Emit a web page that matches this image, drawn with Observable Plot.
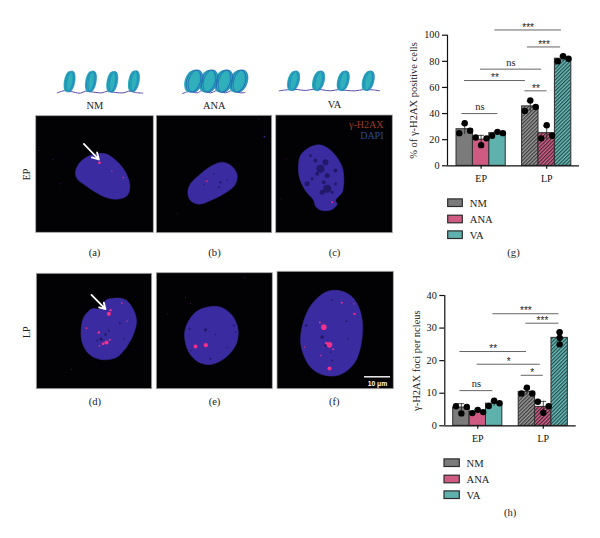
<!DOCTYPE html>
<html><head><meta charset="utf-8">
<script src="https://cdn.jsdelivr.net/npm/d3@7"></script>
<script src="https://cdn.jsdelivr.net/npm/@observablehq/plot@0.6"></script>
<style>
html,body{margin:0;padding:0;background:#fff}
#fig{position:relative;width:600px;height:538px;overflow:hidden;font-family:"Liberation Serif",serif}
#fig svg{position:absolute;left:0;top:0;overflow:visible;background:transparent}
</style></head><body><div id="fig"></div>
<script>
// ---- chart data ----
const groups = ["EP","LP"];
const treatments = ["NM","ANA","VA"];
const slotOf = [0,1,2,4,5,6];
const barGroup = ["EP","EP","EP","LP","LP","LP"];
const barTreat = ["NM","ANA","VA","NM","ANA","VA"];
const gMeans = [28,20,25,45.5,25,82];
const gErrors = [4,3.3,1.5,4,5.5,2];
const gReps = [[25,32.6,26.8],[21.7,15.8,21],[23,26,25],[42,50,45],[21,31,23],[80,84,82]];
const hMeans = [5.6,4.3,6.8,10.4,5.8,27];
const hErrors = [1.2,0.6,0.8,1,1.7,1.8];
const hReps = [[6,3.8,5.8],[3.9,4.9,4.2],[6.1,7.7,6.9],[9.9,11.7,9.9],[7.4,4,6],[28.7,27,25]];
const hDotOffsets = [[-.33,0,.33],[-.33,0,.33],[-.33,0,.33],[-.33,0,.33],[-.33,0,.33],[0,0,0]];
const gDotOffsets = [[-.33,0,.33],[-.33,0,.33],[-.33,0,.33],[-.33,0,.33],[-.33,0,.33],[-.33,0,.33]];
const gSigFrom = [.33,.49,1.46,4.17,4.32,2.34];
const gSigTo = [2.52,4.2,5.19,5.52,6.35,6.4];
const gSigY = [40,65.3,74,57.4,91,104];
const gSigLabel = ["ns","**","ns","**","***","***"];
const hSigFrom = [.41,.41,1.47,4.15,4.44,2.42];
const hSigTo = [2.42,4.48,5.32,5.5,6.46,6.46];
const hSigY = [10.8,22.8,18.9,15.5,31.5,34.4];
const hSigLabel = ["ns","**","*","*","***","***"];
const gTicks = [0,20,40,60,80,100];
const hTicks = [0,10,20,30,40];
const gYLabel = "% of γ-H2AX positive cells";
const hYLabel = "γ-H2AX foci per ncleus";
const solidFill = {NM:"#7b7b7b",ANA:"#cf5a82",VA:"#5fb1ae"};
const hatchFill = {NM:"url(#hatchNM)",ANA:"url(#hatchANA)",VA:"url(#hatchVA)"};

// ---- illustration data: traced in the zoomed crops ----
const upper = ([x,y,r]) => ({x:10+x/3,y:60+y/3,r});
const lower = ([x,y,r]) => ({x:10+x/3,y:260+y/3,r});
const nucleusA = [[195,335],[205,310],[225,292],[250,281],[285,280],[310,295],[335,320],[352,350],[358,380],[350,405],[320,416],[290,412],[255,395],[225,375],[200,355]];
const nucleusB = [[532,395],[540,370],[565,345],[600,318],[635,305],[665,318],[680,345],[672,375],[640,400],[600,420],[565,431],[540,420]];
const nucleusC = [[864,320],[870,285],[895,262],[925,253],[950,262],[975,285],[995,320],[1000,360],[995,395],[975,420],[980,430],[965,447],[935,450],[915,437],[910,420],[885,390],[868,355]];
const nucleusD = [[212,205],[220,170],[245,145],[270,145],[285,120],[310,113],[345,118],[370,150],[378,185],[365,230],[340,270],[315,292],[270,297],[235,280],[215,245]];
const nucleusE = [[522,225],[530,190],[555,155],[590,140],[630,140],[665,165],[683,210],[675,255],[640,295],[600,312],[565,305],[535,275]];
const nucleusF = [[870,240],[880,180],[905,130],[945,95],[985,90],[1020,105],[1045,140],[1056,190],[1050,260],[1030,310],[990,342],[945,345],[905,325],[880,285]];
const nuclei = [
  ...nucleusA.map(upper).map(d=>({...d,id:"a"})),...nucleusB.map(upper).map(d=>({...d,id:"b"})),...nucleusC.map(upper).map(d=>({...d,id:"c"})),
  ...nucleusD.map(lower).map(d=>({...d,id:"d"})),...nucleusE.map(lower).map(d=>({...d,id:"e"})),...nucleusF.map(lower).map(d=>({...d,id:"f"}))];
const pinkSpots = [
  ...[[267,307,1.4],[338,351,.8],[304,332,.6],[589,362,.8],[965,425,.9]].map(upper),
  ...[[295,160,2.1],[300,149,1.2],[265,216,1.2],[288,246,2.1],[278,250,1.4],[298,238,1],[267,256,.8],[228,203,.9],[334,128,.8],[350,182,.7],
      [586,254,2.1],[555,258,1.9],[940,200,2.8],[928,186,.9],[957,253,2.8],[948,248,1.4],[968,266,.9],[957,324,2],[931,285,.8],[994,127,1],[1032,160,1.2],[1030,130,.7],[882,260,.6]].map(lower)];
const darkSpots = [
  ...[[930,325,4],[945,305,3],[915,300,2],[950,385,4],[935,395,2.5],[890,370,2.5],[905,355,1.5],[975,330,2],[900,285,1.5],[950,345,2.5],[965,395,1.5],[920,340,2],[940,365,2],[975,370,1.5],[630,365,1.2],[625,380,1],[610,340,.8],[580,372,.8],[650,358,.8]].map(upper),
  ...[[272,236,1.6],[285,222,1.3],[295,210,1],[260,240,1],[328,188,1],[340,235,.8],
      [585,208,1.6],[537,205,1],[600,295,1],[670,195,1],[675,215,.8],[540,270,.8],[615,222,.8],[650,262,.8],
      [935,230,1.8],[945,255,1.3],[965,300,.9],[887,195,1.3],[965,118,.9],[1008,182,.9],[1012,235,.8],[960,275,.8],[1020,130,.6]].map(lower)];
const dustSpots = [
  ...[[127,297],[85,270],[150,370],[827,295],[812,415],[745,178],[500,458]].map(upper),
  ...[[525,110],[702,52],[470,160],[183,326],[540,130]].map(lower)];
const blueSmear = [[762,229,1]].map(upper);
const panelX1 = [35.7,156.3,275.7,36.3,156.3,277];
const panelX2 = [153.3,271.7,392.3,151.7,272.3,393.3];
const panelY1 = [115.7,115.3,115,273.3,272.7,271.3];
const panelY2 = [232.3,232.7,232.7,388.7,388.7,388.7];
const arrows = [[upper([220,250]),upper([265,297])],[lower([243,103]),lower([285,146])]];
const panelLetters = ["(a)","(b)","(c)","(d)","(e)","(f)","(g)","(h)"];
const letterX = [94,214,334,94.3,214,333.7,513,509.7];
const letterY = [251.7,251.7,251.7,400.7,400.7,400.7,252,511.7];
const columnNames = ["NM","ANA","VA"];
const columnX = [94.3,213.7,334];
const columnY = [105,105,103.7];
const strandNM = [[140,97],[165,90],[190,95],[210,98],[225,92],[250,95],[275,97],[290,92],[315,96],[340,97],[355,92],[375,96],[397,98]];
const strandANA = [[516,99],[540,92],[560,97],[575,90],[600,97],[620,90],[645,97],[665,90],[690,97],[703,96]];
const strandVA = [[806,91],[830,88],[860,87],[885,90],[910,86],[935,88],[960,91],[985,87],[1010,90],[1035,91],[1060,87],[1085,88],[1107,91]];
const strands = [...strandNM.map(upper).map(d=>({...d,id:"NM"})),...strandANA.map(upper).map(d=>({...d,id:"ANA"})),...strandVA.map(upper).map(d=>({...d,id:"VA"}))];
const histonesNM = [[172,63],[236,63],[300,64],[365,62]].map(upper);
const histonesANA = [[543,62],[588,62],[633,62],[678,62]].map(upper);
const histonesVA = [[844,61],[919,61],[993,61],[1068,61]].map(upper);
const legendRowsG = [202.7,219,234.7];
const legendRowsH = [462.7,479,494.7];

// ---- helpers ----
function ellipse(rx, ry, deg) {
  const a = deg*Math.PI/180, c = Math.cos(a), s = Math.sin(a);
  return {draw(ctx){
    for (let i=0;i<36;i++){
      const t=i/36*2*Math.PI, u=rx*Math.cos(t), v=ry*Math.sin(t);
      const px=u*c-v*s, py=u*s+v*c;
      i?ctx.lineTo(px,py):ctx.moveTo(px,py);
    }
    ctx.closePath();
  }};
}
function defsMark(){
  const ns="http://www.w3.org/2000/svg";
  const defs=document.createElementNS(ns,"defs");
  for (const [id,bg,fg] of [["hatchNM","#9a9a9a","#3c3c3c"],["hatchANA","#e0608e","#3d2a33"],["hatchVA","#6cc0bc","#23494a"]]){
    const p=document.createElementNS(ns,"pattern");
    p.setAttribute("id",id);p.setAttribute("width","2.6");p.setAttribute("height","2.6");
    p.setAttribute("patternUnits","userSpaceOnUse");p.setAttribute("patternTransform","rotate(-45)");
    const a=document.createElementNS(ns,"rect");a.setAttribute("width","2.6");a.setAttribute("height","2.6");a.setAttribute("fill",bg);
    const b=document.createElementNS(ns,"rect");b.setAttribute("width","2.6");b.setAttribute("height","1.2");b.setAttribute("fill",fg);
    p.append(a,b);defs.append(p);
  }
  return defs;
}
function histoneMarks(centers, rx, ry, deg, offset, stripe){
  const e = ellipse(rx,ry,deg);
  return [
    Plot.dot(centers,{x:d=>d.x+offset*2,y:"y",symbol:e,fill:"#2aa6c0",stroke:"none"}),
    Plot.dot(centers,{x:"x",y:"y",symbol:e,fill:"#2fb0bb",stroke:"none"}),
    Plot.dot(centers,{x:d=>d.x+offset,y:"y",symbol:e,fill:"none",stroke:stripe,strokeWidth:.8,clip:false}),
    Plot.dot(centers,{x:d=>d.x+offset*2,y:"y",symbol:e,fill:"none",stroke:stripe,strokeWidth:.7})
  ];
}

// ---- scene: micrographs, cartoons, labels, legends ----
const idx = panelX1.map((_,i)=>i);
const scene = Plot.plot({
  width:600,height:538,margin:0,style:{background:"transparent",fontFamily:"Liberation Serif",fontSize:"10px",color:"#222"},
  x:{domain:[0,600],axis:null},y:{domain:[0,538],reverse:true,axis:null},r:{type:"identity"},
  marks:[
    defsMark,
    Plot.line(strands,{x:"x",y:"y",z:"id",stroke:"#5d4aa6",strokeWidth:1,curve:"catmull-rom"}),
    ...histoneMarks(histonesNM,3.9,10.5,10,1.5,"#1b7fb8"),
    ...histoneMarks(histonesANA,6.8,11.5,18,2,"#1f5fb0"),
    ...histoneMarks(histonesVA,4.3,10,14,1.5,"#1b7fb8"),
    Plot.rect(idx,{x1:i=>panelX1[i],x2:i=>panelX2[i],y1:i=>panelY1[i],y2:i=>panelY2[i],fill:"#020205",stroke:"#a8a8a8",strokeWidth:.8}),
    Plot.dot(dustSpots,{x:"x",y:"y",r:.5,fill:"#4a1f55"}),
    Plot.dot(blueSmear,{x:"x",y:"y",r:1,fill:"#2a2a8a"}),
    Plot.line(nuclei,{x:"x",y:"y",z:"id",fill:"#3a2ca0",stroke:"#3a2ca0",strokeWidth:.5,curve:"catmull-rom-closed"}),
    Plot.dot(darkSpots,{x:"x",y:"y",r:"r",fill:"#17104f",fillOpacity:.65,imageFilter:"blur(0.5px)"}),
    Plot.dot(pinkSpots,{x:"x",y:"y",r:"r",fill:"#f0308a",imageFilter:"blur(0.3px)"}),
    Plot.arrow(arrows,{x1:d=>d[0].x,y1:d=>d[0].y,x2:d=>d[1].x,y2:d=>d[1].y,stroke:"#fff",strokeWidth:1.8,headLength:7,bend:0}),
    Plot.text(columnNames,{x:(d,i)=>columnX[i],y:(d,i)=>columnY[i],text:d=>d,fontSize:10.4,fill:"#222"}),
    Plot.text(panelLetters,{x:(d,i)=>letterX[i],y:(d,i)=>letterY[i],text:d=>d,fontSize:10.6,fill:"#222"}),
    Plot.text(groups,{x:26,y:(d,i)=>[174,331.7][i],text:d=>d,rotate:-90,fontSize:10,fill:"#222"}),
    Plot.text(["γ-H2AX"],{x:383,y:124,text:d=>d,textAnchor:"end",fontSize:10,fill:"#9c3a26"}),
    Plot.text(["DAPI"],{x:383,y:135.5,text:d=>d,textAnchor:"end",fontSize:10,fill:"#2b4e8e"}),
    Plot.ruleY([376.3],{x1:364,x2:390,stroke:"#fff",strokeWidth:1.4}),
    Plot.text(["10 μm"],{x:377,y:383.7,text:d=>d,fontSize:6.8,fontWeight:"bold",fontFamily:"Liberation Sans",fill:"#fff"}),
    // legends
    Plot.rect(treatments,{x1:447.7,x2:462.3,y1:(d,i)=>legendRowsG[i]-3.8,y2:(d,i)=>legendRowsG[i]+3.8,fill:d=>solidFill[d],stroke:"#2c2c2c",strokeWidth:1.2}),
    Plot.text(treatments,{x:469.3,y:(d,i)=>legendRowsG[i],text:d=>d,textAnchor:"start",fontSize:10.6,fill:"#222"}),
    Plot.rect(treatments,{x1:444,x2:459.3,y1:(d,i)=>legendRowsH[i]-3.8,y2:(d,i)=>legendRowsH[i]+3.8,fill:d=>solidFill[d],stroke:"#2c2c2c",strokeWidth:1.2}),
    Plot.text(treatments,{x:466,y:(d,i)=>legendRowsH[i],text:d=>d,textAnchor:"start",fontSize:10.6,fill:"#222"})
  ]
});

// ---- bar chart ----
function barChart({means,errors,reps,offsets,sigFrom,sigTo,sigY,sigLabel,ticks,yLabel,ymax,top,left,height,marginTop,marginBottom,marginLeft,marginRight,xMin,xMax,labelDx}){
  const bars = means.map((v,i)=>({v,e:errors[i],s:slotOf[i],g:barGroup[i],t:barTreat[i]}));
  const dots = reps.flatMap((r,i)=>r.map((v,j)=>({x:slotOf[i]+.5+offsets[i][j],v})));
  const sigs = sigLabel.map((l,i)=>({l,a:sigFrom[i],b:sigTo[i],y:sigY[i],star:l!=="ns"}));
  const p = Plot.plot({
    width:200,height,marginTop,marginBottom,marginLeft,marginRight,
    style:{background:"transparent",fontFamily:"Liberation Serif",fontSize:"10px",color:"#111",overflow:"visible"},
    x:{domain:[xMin,xMax],axis:null},
    y:{domain:[0,ymax],axis:null},
    marks:[
      Plot.rect(bars,{x1:"s",x2:d=>d.s+1,y1:0,y2:"v",fill:d=>d.g==="EP"?solidFill[d.t]:hatchFill[d.t],stroke:"#2f2f2f",strokeWidth:1}),
      Plot.ruleX(bars,{x:d=>d.s+.5,y1:d=>d.v-d.e,y2:d=>d.v+d.e,stroke:"#222",strokeWidth:.8}),
      Plot.ruleY(bars,{x1:d=>d.s+.3,x2:d=>d.s+.7,y:d=>d.v+d.e,stroke:"#222",strokeWidth:.8}),
      Plot.dot(dots,{x:"x",y:"v",r:3.2,fill:"#000"}),
      Plot.ruleY([0],{stroke:"#111",strokeWidth:1.2}),
      Plot.ruleX([xMin],{y1:0,y2:ymax,stroke:"#111",strokeWidth:1.2}),
      Plot.axisY({ticks,tickSize:5,tickPadding:3,fontSize:10.2,strokeWidth:1.2,label:null}),
      Plot.text([yLabel],{frameAnchor:"middle",dx:labelDx,rotate:-90,text:d=>d,fontSize:10.5,fill:"#222"}),
      Plot.axisX({ticks:[1.5,5.5],tickFormat:d=>d===1.5?groups[0]:groups[1],tickSize:3.5,tickPadding:6,fontSize:10,strokeWidth:1.2,label:null}),
      Plot.ruleY(sigs,{x1:"a",x2:"b",y:"y",stroke:"#555",strokeWidth:.9}),
      Plot.text(sigs.filter(d=>d.star),{x:d=>(d.a+d.b)/2,y:"y",text:"l",dy:-2.5,fontSize:10,fill:"#222",fontFamily:"Liberation Sans"}),
      Plot.text(sigs.filter(d=>!d.star),{x:d=>(d.a+d.b)/2,y:"y",text:"l",dy:-7,fontSize:10.5,fill:"#222"})
    ]
  });
  p.style.left=left+"px";p.style.top=top+"px";
  return p;
}
const chartG = barChart({means:gMeans,errors:gErrors,reps:gReps,offsets:gDotOffsets,sigFrom:gSigFrom,sigTo:gSigTo,sigY:gSigY,sigLabel:gSigLabel,
  ticks:gTicks,yLabel:gYLabel,ymax:100,top:10,left:400,height:190,marginTop:24.7,marginBottom:34.7,marginLeft:47,marginRight:21,xMin:-.55,xMax:7.5,labelDx:-99.7});
const chartH = barChart({means:hMeans,errors:hErrors,reps:hReps,offsets:hDotOffsets,sigFrom:hSigFrom,sigTo:hSigTo,sigY:hSigY,sigLabel:hSigLabel,
  ticks:hTicks,yLabel:hYLabel,ymax:40,top:280,left:400,height:175,marginTop:15,marginBottom:29.7,marginLeft:44.3,marginRight:24.3,xMin:-.513,xMax:7.51,labelDx:-94});
document.getElementById("fig").append(scene,chartG,chartH);
</script></body></html>
